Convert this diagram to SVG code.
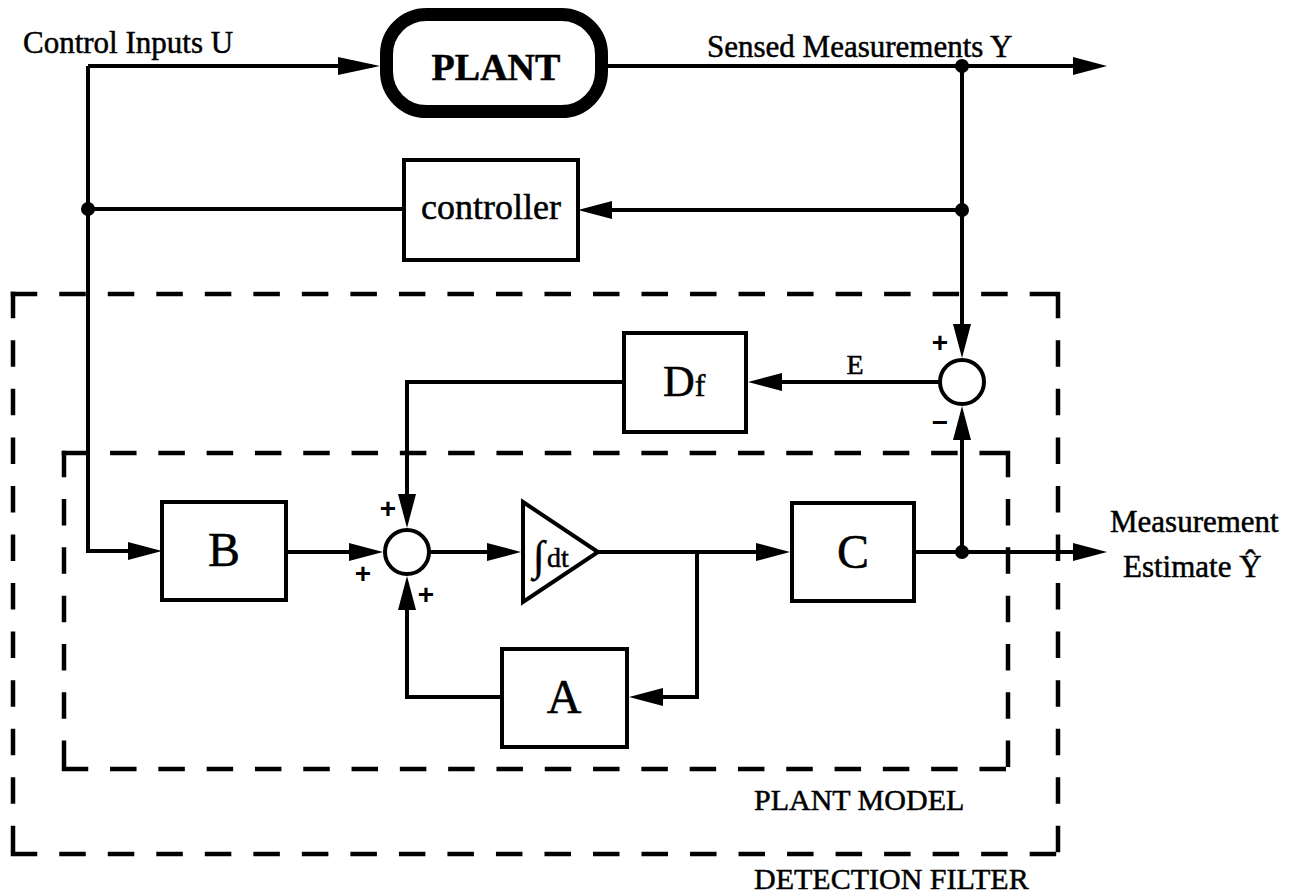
<svg xmlns="http://www.w3.org/2000/svg" width="1298" height="896" viewBox="0 0 1298 896">
<style>
.t{font-family:"Liberation Serif","Times New Roman",serif;fill:#000;stroke:#000;stroke-width:0.5}
.s{font-family:"Liberation Sans",Arial,sans-serif;font-weight:bold;fill:#000}
.box{fill:#fff;stroke:#000;stroke-width:4}
.ln{fill:none;stroke:#000;stroke-width:4;stroke-linejoin:miter}
.arr{marker-end:url(#ah)}
.dsh{fill:none;stroke:#000;stroke-width:4.5;stroke-linecap:square}
</style>
<defs>
<marker id="ah" markerUnits="userSpaceOnUse" markerWidth="34" markerHeight="18" refX="26" refY="9" orient="auto">
<path d="M0,0 L34,9 L0,18 Z" fill="#000"/>
</marker>
<marker id="ahl" markerUnits="userSpaceOnUse" markerWidth="42" markerHeight="18" refX="34" refY="9" orient="auto">
<path d="M0,0 L42,9 L0,18 Z" fill="#000"/>
</marker>
</defs>
<rect width="1298" height="896" fill="#fff"/>

<g id="detection-filter-boundary">
<line class="dsh" x1="13" y1="294" x2="1058" y2="294" stroke-dasharray="22 26.52"/>
<line class="dsh" x1="13" y1="854" x2="1058" y2="854" stroke-dasharray="22 26.52"/>
<line class="dsh" x1="13" y1="294" x2="13" y2="854" stroke-dasharray="22 26.55"/>
<line class="dsh" x1="1058" y1="294" x2="1058" y2="854" stroke-dasharray="22 26.55"/>
<text class="t" x="754" y="889" font-size="30">DETECTION FILTER</text>
</g>
<g id="plant-model-boundary">
<line class="dsh" x1="64" y1="453" x2="1008" y2="453" stroke-dasharray="22 26.3"/>
<line class="dsh" x1="64" y1="769" x2="1008" y2="769" stroke-dasharray="22 26.3"/>
<line class="dsh" x1="64" y1="453" x2="64" y2="769" stroke-dasharray="22 26.3"/>
<line class="dsh" x1="1008" y1="453" x2="1008" y2="769" stroke-dasharray="22 26.3"/>
<text class="t" x="754" y="810" font-size="30">PLANT MODEL</text>
</g>

<g id="connectors">
<path class="ln" d="M88,66 H372" marker-end="url(#ahl)"/>
<path class="ln arr" d="M88,66 V551 H154"/>
<path class="ln arr" d="M608,66 H1099"/>
<path class="ln arr" d="M962,66 V350"/>
<path class="ln arr" d="M962,210 H586"/>
<path class="ln" d="M404,209 H88"/>
<path class="ln arr" d="M940,382 H756"/>
<path class="ln arr" d="M624,382 H407 V520"/>
<path class="ln arr" d="M286,552 H375"/>
<path class="ln arr" d="M429,552 H513"/>
<path class="ln arr" d="M598,552 H782"/>
<path class="ln arr" d="M697,552 V697 H637"/>
<path class="ln arr" d="M502,697 H407 V584"/>
<path class="ln arr" d="M914,552 H1099"/>
<path class="ln arr" d="M962,552 V414"/>
<circle cx="88" cy="209" r="7" fill="#000"/>
<circle cx="962" cy="66" r="7" fill="#000"/>
<circle cx="962" cy="210" r="7" fill="#000"/>
<circle cx="962" cy="552" r="7" fill="#000"/>
</g>

<g id="label-control-inputs">
<text class="t" x="23" y="53" font-size="31">Control Inputs U</text>
</g>
<g id="label-sensed">
<text class="t" x="707" y="57" font-size="31">Sensed Measurements Y</text>
</g>
<g id="label-estimate">
<text class="t" x="1110" y="532" font-size="31">Measurement</text>
<text class="t" x="1123" y="577" font-size="31">Estimate Ŷ</text>
</g>

<g id="plant">
<rect x="386.5" y="14.5" width="215" height="97" rx="40" ry="40" fill="#fff" stroke="#000" stroke-width="13"/>
<text class="t" x="496" y="80" font-size="38" font-weight="bold" text-anchor="middle">PLANT</text>
</g>
<g id="controller">
<rect class="box" x="404" y="160" width="174" height="100"/>
<text class="t" x="491" y="219" font-size="36" text-anchor="middle">controller</text>
</g>
<g id="Df">
<rect class="box" x="624" y="333" width="122" height="99"/>
<text class="t" x="663" y="396"><tspan font-size="44">D</tspan><tspan font-size="32">f</tspan></text>
</g>
<g id="sum-error">
<circle cx="962" cy="382" r="22" fill="#fff" stroke="#000" stroke-width="4"/>
<text class="s" x="940" y="352" font-size="28" text-anchor="middle">+</text>
<text class="s" x="940" y="432" font-size="28" text-anchor="middle">−</text>
</g>
<g id="label-E">
<text class="t" x="855" y="374" font-size="28" text-anchor="middle">E</text>
</g>
<g id="B">
<rect class="box" x="162" y="502" width="124" height="98"/>
<text class="t" x="224" y="566" font-size="48" text-anchor="middle">B</text>
</g>
<g id="sum-state">
<circle cx="407" cy="552" r="22" fill="#fff" stroke="#000" stroke-width="4"/>
<text class="s" x="388" y="518" font-size="28" text-anchor="middle">+</text>
<text class="s" x="363" y="583" font-size="28" text-anchor="middle">+</text>
<text class="s" x="426" y="604" font-size="28" text-anchor="middle">+</text>
</g>
<g id="integrator">
<path d="M523,502 L598,552 L523,602 Z" fill="#fff" stroke="#000" stroke-width="4" stroke-linejoin="miter"/>
<text class="t" x="533" y="570" font-size="42">∫</text>
<text class="t" x="547" y="567" font-size="28">dt</text>
</g>
<g id="C">
<rect class="box" x="792" y="503" width="122" height="98"/>
<text class="t" x="853" y="568" font-size="48" text-anchor="middle">C</text>
</g>
<g id="A">
<rect class="box" x="502" y="649" width="125" height="98"/>
<text class="t" x="564" y="713" font-size="48" text-anchor="middle">A</text>
</g>
</svg>
